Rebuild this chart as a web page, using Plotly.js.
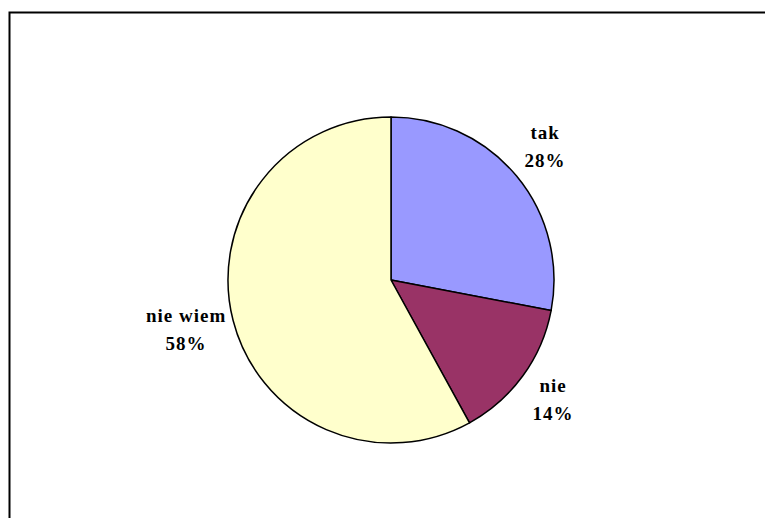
<!DOCTYPE html>
<html>
<head>
<meta charset="utf-8">
<script src="https://cdn.plot.ly/plotly-3.0.1.min.js"></script>
<style>
html,body{margin:0;padding:0;background:#fff;}
#chart{width:765px;height:518px;}
#chart .annotation-text{letter-spacing:1px;}
</style>
</head>
<body>
<div id="chart"></div>
<script>
const categories = ["tak", "nie", "nie wiem"];
const values = [28, 14, 58];
const colors = ["#9999FF", "#993366", "#FFFFCC"];

const W = 765, H = 518;
const cx = 391, cy = 280, r = 163, labelR = 207;

const total = values.reduce((a, b) => a + b, 0);
const annotations = [];
let cum = 0;
values.forEach((v, i) => {
  const mid = (cum + v / 2) / total * 2 * Math.PI;
  cum += v;
  const px = cx - 5 + labelR * Math.sin(mid);
  const py = cy - 2 - labelR * Math.cos(mid);
  const pct = Math.round(v / total * 100) + "%";
  const font = {family: "Liberation Serif, Times New Roman, serif", size: 19, color: "#000", weight: "bold"};
  const common = {xref: "paper", yref: "paper", x: px / W, y: 1 - py / H, showarrow: false, xanchor: "center", yanchor: "middle", font: font};
  annotations.push(Object.assign({text: categories[i], yshift: 14}, common));
  annotations.push(Object.assign({text: pct, yshift: -14}, common));
});

const data = [{
  type: "pie",
  labels: categories,
  values: values,
  sort: false,
  direction: "clockwise",
  rotation: 0,
  textinfo: "none",
  hoverinfo: "label+percent",
  marker: {colors: colors, line: {color: "#000", width: 1.5}},
  domain: {x: [(cx - r) / W, (cx + r) / W], y: [1 - (cy + r) / H, 1 - (cy - r) / H]},
  showlegend: false
}];

const layout = {
  width: W, height: H,
  margin: {l: 0, r: 0, t: 0, b: 0},
  paper_bgcolor: "#fff",
  showlegend: false,
  annotations: annotations,
  shapes: [{type: "rect", xref: "paper", yref: "paper", x0: 9.5 / W, x1: (W + 30) / W, y0: -30 / H, y1: 1 - 12.5 / H, line: {color: "#000", width: 2}}]
};

Plotly.newPlot("chart", data, layout, {displayModeBar: false, staticPlot: true});
</script>
</body>
</html>
